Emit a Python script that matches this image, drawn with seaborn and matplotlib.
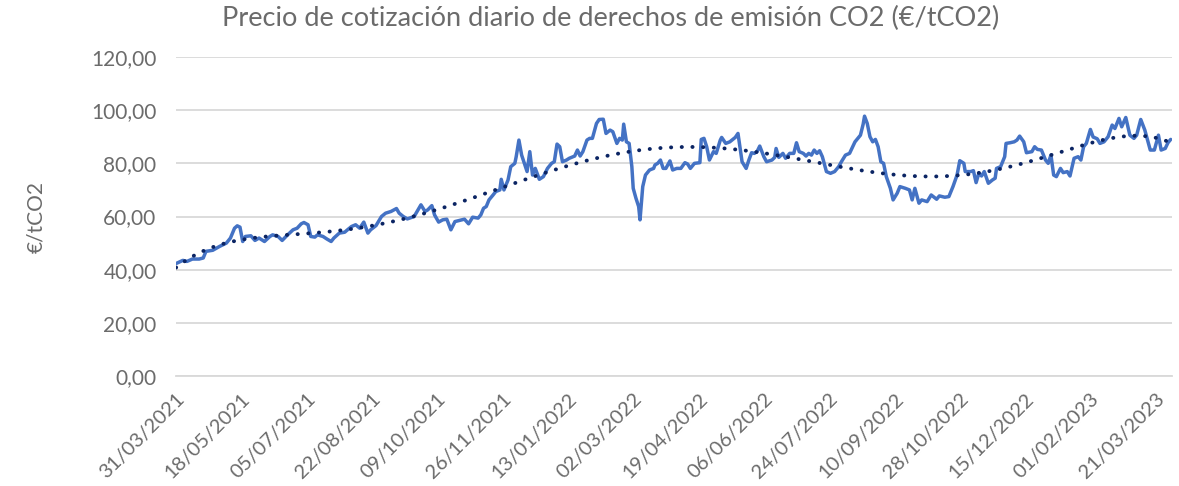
import numpy as np
import pandas as pd
import matplotlib
matplotlib.use("Agg")
import matplotlib.pyplot as plt
import seaborn as sns

start_date = "2021-03-31"

day_offset = [
    0, 5, 8, 12, 17, 20, 22, 27, 32, 37, 40, 43, 45, 47, 49, 51, 55, 58, 61, 65, 69, 71, 75, 78, 82, 86, 89, 92, 94, 97, 99, 102, 104,
    108, 111, 114, 116, 120, 124, 126, 129, 132, 135, 138, 141, 143, 147, 151, 154, 158, 162, 164, 167, 170, 175, 180, 183, 185, 188, 190, 193, 196, 199, 202, 205, 208,
    212, 215, 218, 222, 224, 226, 228, 230, 233, 235, 238, 239, 241, 244, 246, 249, 250, 252, 254, 256, 258, 260, 262, 264, 267, 270, 273, 276, 278, 280, 282, 284, 287, 289, 293, 295, 297, 299, 302, 304, 306, 309, 311, 314, 316, 319,
    321, 324, 326, 328, 329, 331, 333, 335, 336, 338, 340, 341, 343, 345, 348, 351, 352, 354, 356, 358, 360, 363, 365, 368, 371, 374, 376, 378, 381, 385, 386, 388, 390, 392, 395, 397, 400, 401, 404, 407, 411, 413, 416, 419, 421, 423, 425,
    427, 429, 432, 434, 438, 440, 441, 443, 446, 448, 451, 454, 456, 458, 461, 463, 465, 467, 469, 471, 473, 475, 478, 481, 484, 487, 489, 492, 495, 499, 503, 505, 506, 508, 510, 512, 514, 516, 518, 520, 522, 525, 527, 530, 532,
    536, 539, 541, 543, 546, 548, 552, 555, 559, 561, 565, 568, 571, 574, 576, 579, 580, 584, 586, 588, 590, 592, 594, 597, 600, 602, 603, 606, 609, 610, 613, 616, 618, 620, 623, 625, 629, 631,
    633, 636, 639, 641, 643, 645, 647, 650, 652, 655, 657, 660, 663, 665, 667, 669, 672, 674, 677, 679, 682, 685, 688, 690, 693, 695, 698, 701, 704, 706, 709, 712, 716, 719, 720, 722, 724, 727, 729, 731,
]

price = [
    42.3, 43.5, 43.1, 44, 44, 44.4, 46.9, 47.3, 48.75, 50, 51.9, 55.6, 56.5, 56, 50.6, 52.5, 52.75, 51, 51.9, 50.6, 52.5, 53.1, 52.5, 51, 53.1, 55, 55.6, 57.25, 57.75, 56.9, 52.5, 52.25, 53.1,
    52.5, 51.5, 50.6, 51.9, 53.75, 54.1, 55, 56.25, 56.9, 55.6, 57.9, 53.75, 55, 56.6, 60, 61.25, 61.9, 63, 61.25, 60, 59.1, 60, 64.4, 61.9, 62.5, 64.1, 60.6, 57.9, 58.75, 59, 55, 58.1, 58.5,
    59, 57.25, 59.75, 59.4, 60.6, 63.1, 63.75, 66.25, 68.1, 69.4, 70, 74, 70, 73.75, 78.75, 80, 82.5, 88.75, 83.1, 80, 76.9, 84.4, 75.6, 78.1, 74, 75, 78.1, 80, 80.6, 87.25, 86.25, 80.6, 81.25, 81.9, 82.75, 85, 82.75, 84.4, 88.75, 89.4, 89.4, 95, 96.5, 96.6, 91.25, 92.5,
    91.9, 87.5, 89.4, 88.75, 94.75, 88.1, 87.5, 78.75, 70.6, 66.9, 63.75, 58.75, 71.25, 75.6, 77.5, 78.1, 79.4, 80, 81.25, 78.1, 78.1, 80.9, 77.5, 78.1, 78.1, 80.25, 79.75, 78.1, 80, 80.25, 89, 89.4, 86.25, 81.25, 84.4, 83.75, 88.75, 89.75, 87.5, 88.1, 89.75, 91.25, 80.6, 78.1, 81.25, 84, 83.75,
    84.4, 86.5, 82.5, 80.6, 81.25, 82.25, 85.6, 82.25, 83.75, 81.9, 83.75, 83.75, 87.75, 84.4, 83.75, 82.75, 83.75, 83.1, 85, 83.75, 84.75, 82.5, 76.9, 76.25, 76.9, 78.75, 80.6, 83.1, 83.75, 88.1, 90.6, 94.75, 97.75, 95, 90, 88.1, 89, 86.25, 80.6, 80, 75, 70.6, 66.25, 68.75, 71.25,
    70.6, 70, 66.25, 70.6, 65, 66.25, 65.6, 68.1, 66.5, 67.75, 67.25, 67.5, 71.25, 75.6, 81, 80, 76.9, 76.9, 77.25, 72.75, 76.25, 75.25, 76.9, 72.5, 73.75, 74.4, 78.1, 78.75, 82.5, 87.5, 87.75, 88.1, 88.75, 90.25, 88.1, 84, 84.4, 86.25,
    85.25, 85, 81.25, 80, 83.1, 75.6, 75, 78.1, 76.5, 76.9, 75.25, 81.9, 82.5, 81.25, 86.25, 87.5, 92.75, 89.9, 89.25, 87.5, 88.1, 90, 94.4, 93.1, 96.9, 93.75, 97.25, 90.6, 89.4, 90.6, 96.5, 92.5, 85, 85, 86.9, 90.6, 85, 85.6, 87.75, 89,
]

y_ticks = [0, 20, 40, 60, 80, 100, 120]
x_tick_step_days = 48
x_tick_count = 16

title = "Precio de cotización diario de derechos de emisión CO2 (€/tCO2)"
y_label = "€/tCO2"

# ---------------------------------------------------------------------------
start = pd.Timestamp(start_date)
dates = start + pd.to_timedelta(day_offset, unit="D")
df = pd.DataFrame({"fecha": dates, "precio": price})

# polynomial (order 6) trendline, as in the spreadsheet chart
daily = np.arange(0, day_offset[-1] + 1)
daily_price = np.interp(daily, day_offset, price)
coef = np.polyfit(daily, daily_price, 6)
trend_df = pd.DataFrame({"fecha": start + pd.to_timedelta(daily, unit="D"),
                         "trend": np.polyval(coef, daily)})

sns.set_theme(style="white")
plt.rcParams["font.family"] = ["Lato", "DejaVu Sans"]

grey = "#6B6B6B"
fig = plt.figure(figsize=(11.79, 4.86), dpi=100)
ax = fig.add_axes([0.1493, 0.2263, 0.8448, 0.6564])

for yv in y_ticks:
    ax.axhline(yv, color="#D9D9D9", lw=1.3, zorder=0)

sns.lineplot(data=df, x="fecha", y="precio", ax=ax, color="#4472C4", lw=2.5, zorder=3)
sns.lineplot(data=trend_df, x="fecha", y="trend", ax=ax, color="#0B2463", lw=2.8,
             linestyle=(0, (0.05, 2.7)), dash_capstyle="round", zorder=4)

ax.set_ylim(0, 120)
ax.set_xlim(start, start + pd.Timedelta(days=732))
ax.set_yticks(y_ticks)
ax.set_yticklabels([f"{v:.2f}".replace(".", ",") for v in y_ticks], color=grey, fontsize=15)

xt = [start + pd.Timedelta(days=x_tick_step_days * i) for i in range(x_tick_count)]
ax.set_xticks(xt)
ax.set_xticklabels([d.strftime("%d/%m/%Y") for d in xt], rotation=45, ha="right",
                   rotation_mode="anchor", color=grey, fontsize=14.5)

for s in ["left", "right", "top"]:
    ax.spines[s].set_visible(False)
ax.spines["bottom"].set_color("#D9D9D9")
ax.spines["bottom"].set_linewidth(1.3)
ax.tick_params(axis="x", which="major", direction="out", length=6, width=1.3, color="#D9D9D9", pad=4)
ax.tick_params(axis="y", length=0, pad=14)

ax.set_xlabel("")
ax.set_ylabel(y_label, color=grey, fontsize=15)
ax.yaxis.set_label_coords(-0.13, 0.5)
fig.text(0.518, 0.962, title, ha="center", va="center", color=grey, fontsize=19.5)

fig.savefig("out.png", dpi=100)
